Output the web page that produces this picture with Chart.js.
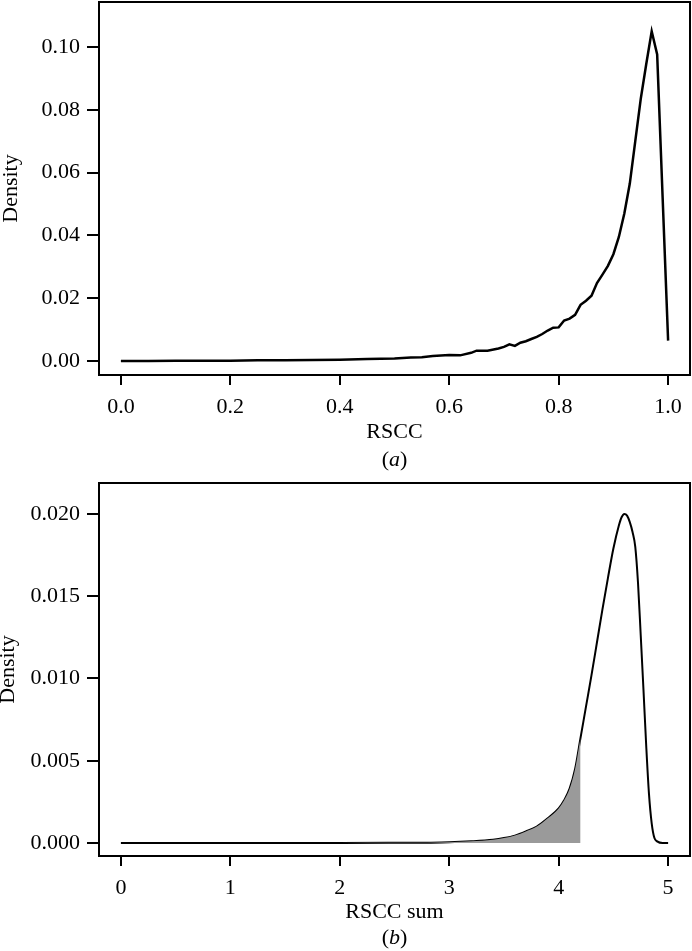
<!DOCTYPE html>
<html>
<head>
<meta charset="utf-8">
<script src="https://cdn.jsdelivr.net/npm/chart.js@4.4.0/dist/chart.umd.min.js"></script>
<style>
  body { margin: 0; background: #fff; width: 692px; height: 951px; position: relative; overflow: hidden; font-family: "Liberation Serif", "Times New Roman", serif; }
  canvas { position: absolute; left: 0; display: block; }
  #rsccChart { top: 0; }
  #sumChart { top: 475px; }
  .tag { position: absolute; left: 99px; width: 591px; text-align: center; font-size: 22px; line-height: 24px; color: #000; }
</style>
</head>
<body>
<canvas id="rsccChart" width="692" height="475"></canvas>
<canvas id="sumChart" width="692" height="476"></canvas>
<div class="tag" style="top:447px">(<i>a</i>)</div>
<div class="tag" style="top:925px">(<i>b</i>)</div>
<script>
// panel (a): density of RSCC
const rsccX = [0.00, 0.05, 0.10, 0.15, 0.20, 0.25, 0.30, 0.35, 0.40, 0.45, 0.50, 0.53, 0.55, 0.57, 0.60,
  0.62, 0.64, 0.65, 0.67, 0.69, 0.70, 0.71, 0.72, 0.73, 0.74, 0.75, 0.76, 0.77, 0.78, 0.79, 0.80,
  0.81, 0.82, 0.83, 0.84, 0.85, 0.86, 0.87, 0.88, 0.89, 0.90, 0.91, 0.92, 0.93, 0.94, 0.95, 0.96,
  0.97, 0.98, 0.99, 1.00];
const rsccDensity = [0.0000, 0.0000, 0.0001, 0.0001, 0.0001, 0.0002, 0.0002, 0.0003, 0.0004, 0.0006, 0.0008, 0.0011, 0.0012, 0.0016, 0.0019,
  0.0018, 0.0026, 0.0033, 0.0033, 0.0040, 0.0045, 0.0053, 0.0048, 0.0058, 0.0063, 0.0070, 0.0077, 0.0086, 0.0097, 0.0106, 0.0107,
  0.0129, 0.0135, 0.0147, 0.0179, 0.0192, 0.0208, 0.0248, 0.0275, 0.0303, 0.0340, 0.0395, 0.0470, 0.0565, 0.0700, 0.0835, 0.0945,
  0.1050, 0.0976, 0.0520, 0.0065];
const rsccXTicks = [0, 0.2, 0.4, 0.6, 0.8, 1.0];
const rsccYTicks = [0, 0.02, 0.04, 0.06, 0.08, 0.10];

// panel (b): density of the RSCC sum, shaded up to the cut-off
const sumX = [0, 0.5, 1, 1.5, 2, 2.5, 2.8, 3.0, 3.2, 3.4, 3.5, 3.6, 3.7, 3.8, 3.9, 4.0, 4.05, 4.1, 4.15,
  4.2, 4.25, 4.3, 4.35, 4.4, 4.45, 4.5, 4.55, 4.575, 4.6, 4.625, 4.65, 4.675, 4.7, 4.725, 4.75, 4.775,
  4.8, 4.825, 4.85, 4.875, 4.9, 4.95, 5.0];
const sumDensity = [0, 0, 0, 0, 0, 0.00001, 0.00002, 0.00004, 0.0001, 0.0002, 0.0003, 0.00045, 0.0007, 0.0010, 0.0015, 0.0021, 0.0026, 0.0033, 0.0045,
  0.0064, 0.0083, 0.0102, 0.0122, 0.0142, 0.0161, 0.0179, 0.0193, 0.0198, 0.0200, 0.0199, 0.0195, 0.0189, 0.0180, 0.0158, 0.0126, 0.0093,
  0.0059, 0.0030, 0.0012, 0.0003, 0.0001, 0, 0];
const shadeLimit = 4.2;
const sumXTicks = [0, 1, 2, 3, 4, 5];
const sumYTicks = [0, 0.005, 0.010, 0.015, 0.020];

Chart.defaults.font.family = '"Liberation Serif", "Times New Roman", serif';
Chart.defaults.font.size = 22;
Chart.defaults.color = '#000';

const framePlugin = {
  id: 'frame',
  afterDatasetsDraw(chart) {
    const { ctx, chartArea: a } = chart;
    ctx.save();
    ctx.strokeStyle = '#000';
    ctx.lineWidth = 2;
    ctx.strokeRect(a.left, a.top, a.right - a.left, a.bottom - a.top);
    ctx.restore();
  }
};

function toPoints(xs, ys) {
  return xs.map((x, i) => ({ x, y: ys[i] }));
}

function axis(opts) {
  const { min, max, ticks, fmt, title, titlePad, size, tickLength, isX } = opts;
  return {
    type: 'linear',
    min,
    max,
    afterBuildTicks: (scale) => { scale.ticks = ticks.map((value) => ({ value })); },
    afterFit: (scale) => {
      if (isX) scale.height = size;
      else scale.width = size;
      // tick labels sit well inside the range, so no extra room is needed at the ends
      scale.paddingTop = 0;
      scale.paddingBottom = 0;
      scale.paddingLeft = 0;
      scale.paddingRight = 0;
    },
    ticks: { callback: fmt, padding: isX ? 9 : 7, maxRotation: 0, autoSkip: false, font: { size: 22 } },
    grid: { drawOnChartArea: false, drawTicks: true, tickLength, color: '#000', lineWidth: 2 },
    border: { display: false },
    title: { display: true, text: title, font: { size: 22 }, padding: titlePad }
  };
}

function makeChart(id, datasets, cfg) {
  return new Chart(document.getElementById(id), {
    type: 'line',
    data: { datasets },
    options: {
      responsive: false,
      animation: false,
      events: [],
      layout: { padding: { top: cfg.padTop, right: 2, left: 0, bottom: 0 } },
      plugins: { legend: { display: false }, tooltip: { enabled: false } },
      elements: { point: { radius: 0 } },
      scales: {
        x: axis({ ...cfg.x, isX: true, tickLength: 10 }),
        y: axis({ ...cfg.y, isX: false, tickLength: 12 })
      }
    },
    plugins: [framePlugin]
  });
}

makeChart('rsccChart', [
  {
    data: toPoints(rsccX, rsccDensity),
    borderColor: '#000',
    borderWidth: 2.5,
    tension: 0,
    fill: false
  }
], {
  padTop: 2,
  x: { min: -0.04, max: 1.04, ticks: rsccXTicks, fmt: (v) => Number(v).toFixed(1), title: 'RSCC', titlePad: { top: 0, bottom: 30 }, size: 100 },
  y: { min: -0.00446, max: 0.11433, ticks: rsccYTicks, fmt: (v) => Number(v).toFixed(2), title: 'Density', titlePad: { top: -2, bottom: 0 }, size: 99 }
});

const shadeX = sumX.filter((x) => x <= shadeLimit);
makeChart('sumChart', [
  {
    data: toPoints(shadeX, sumDensity.slice(0, shadeX.length)),
    borderWidth: 0,
    borderColor: 'rgba(0,0,0,0)',
    backgroundColor: '#9a9a9a',
    cubicInterpolationMode: 'monotone',
    fill: 'origin'
  },
  {
    data: toPoints(sumX, sumDensity),
    borderColor: '#000',
    borderWidth: 2,
    cubicInterpolationMode: 'monotone',
    fill: false
  }
], {
  padTop: 8,
  x: { min: -0.2, max: 5.2, ticks: sumXTicks, fmt: (v) => String(Math.round(v)), title: 'RSCC sum', titlePad: { top: 0, bottom: 26 }, size: 95 },
  y: { min: -0.00079, max: 0.02188, ticks: sumYTicks, fmt: (v) => Number(v).toFixed(3), title: 'Density', titlePad: { top: -5, bottom: 0 }, size: 99 }
});
</script>
</body>
</html>
